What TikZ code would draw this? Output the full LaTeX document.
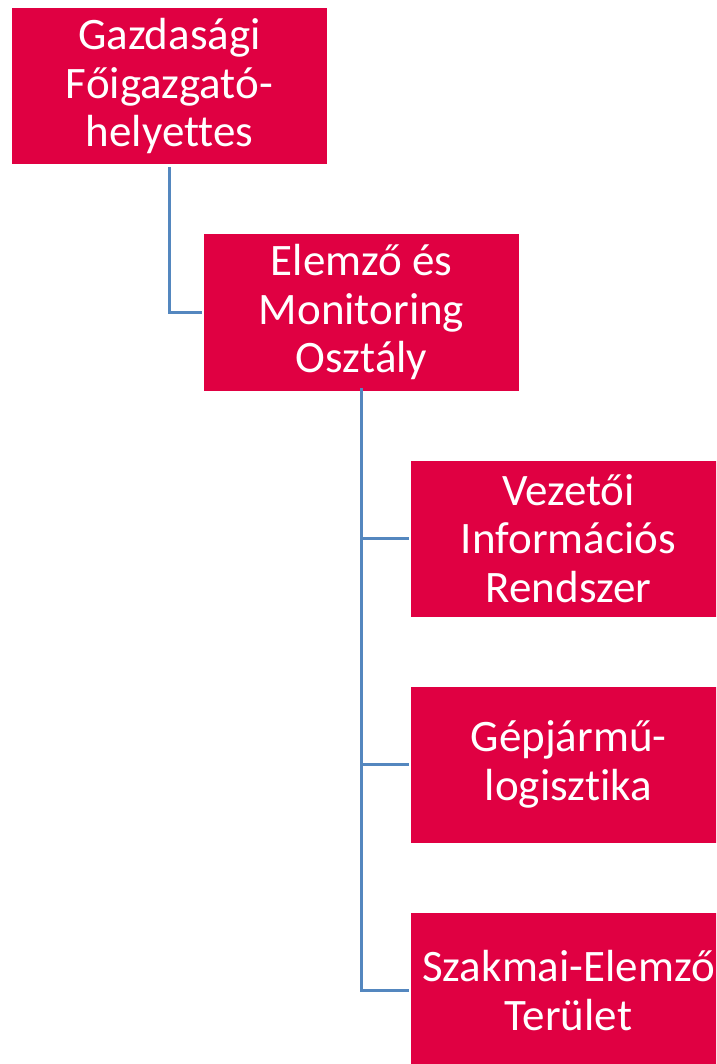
\documentclass[tikz,border=0pt]{standalone}
\usepackage{fontspec}
\setmainfont[Ligatures=NoCommon]{Carlito}
\definecolor{boxred}{HTML}{E00042}
\definecolor{linkblue}{HTML}{5487BF}
\begin{document}
\begin{tikzpicture}[x=1pt,y=-1pt,
  unit/.style={fill=boxred, draw=none, minimum width=315pt, minimum height=156pt,
    inner sep=0pt, align=center, text=white,
    font=\fontsize{45}{48.5}\selectfont},
  link/.style={draw=linkblue, line width=2.5pt}]
\useasboundingbox (0,0) rectangle (716,1064);
\clip (0,0) rectangle (716,1064);
\node[unit] (b1) at (169.5,86.5) {Gazdasági\\Főigazgató-\\helyettes};
\node[unit] (b2) at (361.5,312.5) {Elemző és\\Monitoring\\Osztály};
\node[unit] (b3) at (568.5,538.5) {Vezetői\\Információs\\Rendszer};
\node[unit] (b4) at (568.5,764.5) {Gépjármű-\\logisztika};
\node[unit] (b5) at (568.5,990.5) {Szakmai-Elemző\\Terület};
\draw[link, shorten <=2.5pt, shorten >=2pt] (b1.south) |- (b2.west);
\coordinate (trunk) at ([yshift=2.5pt]b2.south);
\draw[link] (trunk) |- ([xshift=-1.5pt]b5.west);
\draw[link] (trunk |- b3.west) -- ([xshift=-1.5pt]b3.west);
\draw[link] (trunk |- b4.west) -- ([xshift=-1.5pt]b4.west);
\end{tikzpicture}
\end{document}
